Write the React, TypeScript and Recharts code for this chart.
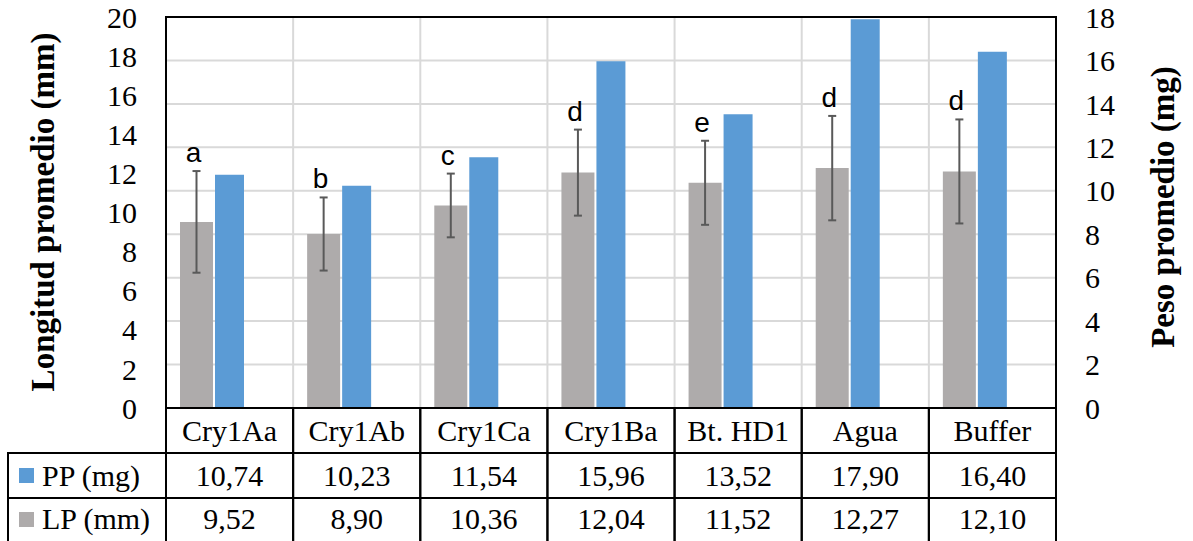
import { Bar, BarChart, CartesianGrid, ErrorBar, LabelList, ReferenceArea, XAxis, YAxis } from 'recharts'

const CATEGORIES = ['Cry1Aa', 'Cry1Ab', 'Cry1Ca', 'Cry1Ba', 'Bt. HD1', 'Agua', 'Buffer']
const PP_MG = [10.74, 10.23, 11.54, 15.96, 13.52, 17.9, 16.4]
const LP_MM = [9.52, 8.9, 10.36, 12.04, 11.52, 12.27, 12.1]
const LP_ERR = [2.6, 1.87, 1.63, 2.2, 2.15, 2.67, 2.66]
const LETTERS = ['a', 'b', 'c', 'd', 'e', 'd', 'd']
const LEFT_TICKS = [0, 2, 4, 6, 8, 10, 12, 14, 16, 18, 20]
const RIGHT_TICKS = [0, 2, 4, 6, 8, 10, 12, 14, 16, 18]

const GRAY = '#AEABAB'
const BLUE = '#5B9BD5'
const SERIF = '"Liberation Serif", "Times New Roman", serif'
const SANS = '"Liberation Sans", Arial, sans-serif'
const ROW = 45

const data = CATEGORIES.map((name, i) => ({
  name,
  pp: PP_MG[i],
  lp: LP_MM[i],
  lpErr: LP_ERR[i],
}))

const fmt = (v: number) => v.toFixed(2).replace('.', ',')

function TableTick(props: any) {
  const { x, y, payload } = props
  const i = CATEGORIES.indexOf(payload.value)
  const half = payload.offset || 63.5
  const left = x - half
  const w = half * 2
  const txt = { fontFamily: SERIF, fontSize: 30, fill: '#000', textAnchor: 'middle' as const }
  return (
    <g>
      <rect x={left} y={y} width={w} height={ROW * 3} fill="none" stroke="#000" strokeWidth={2} />
      <line x1={left} x2={left + w} y1={y + ROW} y2={y + ROW} stroke="#000" strokeWidth={2} />
      <line x1={left} x2={left + w} y1={y + ROW * 2} y2={y + ROW * 2} stroke="#000" strokeWidth={2} />
      <text x={x} y={y + 33} {...txt}>{payload.value}</text>
      <text x={x} y={y + 78} {...txt}>{fmt(PP_MG[i])}</text>
      <text x={x} y={y + 121} {...txt}>{fmt(LP_MM[i])}</text>
      {i === 0 && (
        <g>
          <rect x={8} y={y + ROW} width={left - 8} height={ROW * 2} fill="none" stroke="#000" strokeWidth={2} />
          <line x1={8} x2={left} y1={y + ROW * 2} y2={y + ROW * 2} stroke="#000" strokeWidth={2} />
          <rect x={19} y={y + 60} width={15} height={15} fill={BLUE} />
          <text x={42} y={y + 78} fontFamily={SERIF} fontSize={30} fill="#000">PP (mg)</text>
          <rect x={19} y={y + 104} width={15} height={15} fill={GRAY} />
          <text x={42} y={y + 121} fontFamily={SERIF} fontSize={30} fill="#000">LP (mm)</text>
        </g>
      )}
    </g>
  )
}

function LetterLabel(props: any) {
  const vb = props.viewBox || props
  const i = props.index
  const v = LP_MM[i]
  if (!v) return null
  const errTop = vb.y - (LP_ERR[i] / v) * vb.height
  return (
    <text x={vb.x + vb.width / 2 - 3} y={errTop - 9} textAnchor="middle" fontFamily={SANS} fontSize={28} fill="#000">
      {LETTERS[i]}
    </text>
  )
}

function AxisTitle({ x, y, text }: { x: number; y: number; text: string }) {
  return (
    <text
      x={x}
      y={y}
      transform={`rotate(-90 ${x} ${y})`}
      textAnchor="middle"
      dominantBaseline="central"
      fontFamily={SERIF}
      fontWeight="bold"
      fontSize={33}
      fill="#000"
    >
      {text}
    </text>
  )
}

export default function App() {
  return (
    <div style={{ position: 'absolute', left: 0, top: 0, width: 1193, height: 541, background: '#fff' }}>
      <BarChart
        width={1193}
        height={541}
        data={data}
        margin={{ top: 17, right: 0, bottom: 0, left: 0 }}
        barGap={2}
      >
        <CartesianGrid
          yAxisId="right"
          stroke="#D9D9D9"
          strokeWidth={2}
          verticalCoordinatesGenerator={({ offset }: any) =>
            CATEGORIES.slice(1).map((_, i) => offset.left + ((i + 1) * offset.width) / CATEGORIES.length)
          }
        />
        <XAxis
          dataKey="name"
          height={133}
          axisLine={false}
          tickLine={false}
          tickSize={0}
          tickMargin={0}
          interval={0}
          tick={<TableTick />}
        />
        <YAxis
          yAxisId="left"
          domain={[0, 20]}
          ticks={LEFT_TICKS}
          width={166}
          axisLine={false}
          tickLine={false}
          tickSize={6}
          tickMargin={23}
          tick={{ fontFamily: SERIF, fontSize: 30, fill: '#000' }}
          label={() => <AxisTitle x={43} y={212} text="Longitud promedio (mm)" />}
        />
        <YAxis
          yAxisId="right"
          orientation="right"
          domain={[0, 18]}
          ticks={RIGHT_TICKS}
          width={137}
          axisLine={false}
          tickLine={false}
          tickSize={6}
          tickMargin={23}
          tick={{ fontFamily: SERIF, fontSize: 30, fill: '#000', textAnchor: 'start' }}
          label={() => <AxisTitle x={1163} y={207} text="Peso promedio (mg)" />}
        />
        <Bar yAxisId="left" dataKey="lp" fill={GRAY} barSize={33} isAnimationActive={false}>
          <ErrorBar dataKey="lpErr" width={4} strokeWidth={2} stroke="#595959" direction="y" />
          <LabelList dataKey="lp" content={<LetterLabel />} />
        </Bar>
        <Bar yAxisId="right" dataKey="pp" fill={BLUE} barSize={29} isAnimationActive={false} />
        <Bar yAxisId="left" dataKey={() => 0} fill="none" barSize={33} isAnimationActive={false} />
        <ReferenceArea yAxisId="left" y1={0} y2={20} fill="none" stroke="#000" strokeWidth={2} fillOpacity={0} />
      </BarChart>
    </div>
  )
}
